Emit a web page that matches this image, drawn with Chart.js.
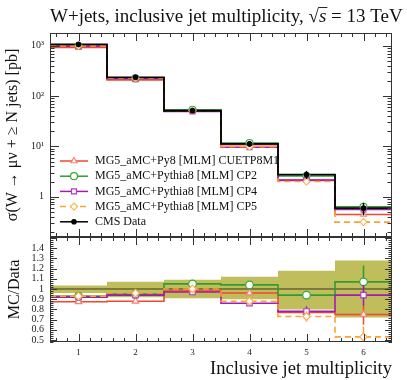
<!DOCTYPE html>
<html>
<head>
<meta charset="utf-8">
<script src="https://cdn.jsdelivr.net/npm/chart.js@4.4.1/dist/chart.umd.min.js"></script>
<style>
body{margin:0;background:#fff;}
canvas{display:block;}
</style>
</head>
<body>
<canvas id="main_chart" width="407" height="237"></canvas>
<canvas id="ratio_chart" width="407" height="143"></canvas>
<script>
// inclusive jet multiplicity bins
const NJETS = [1, 2, 3, 4, 5, 6];
const X_LABELS = ['1', '2', '3', '4', '5', '6'];
const LOG_TICKS = [1, 10, 100, 1000];
const LOG_LABELS = ['1', '10¹', '10²', '10³'];
const RATIO_TICKS = [0.5, 0.6, 0.7, 0.8, 0.9, 1.0, 1.1, 1.2, 1.3, 1.4];
const RATIO_LABELS = ['0.5', '0.6', '0.7', '0.8', '0.9', '1', '1.1', '1.2', '1.3', '1.4'];

// CMS data [pb]
const cmsData = [1060, 236, 51, 11.2, 2.74, 0.59];
// data uncertainty band (MC/Data)
const bandHi = [1.035, 1.07, 1.09, 1.12, 1.18, 1.28];
const bandLo = [0.96, 0.92, 0.91, 0.90, 0.80, 0.72];

// MC / Data
const ratioCUETP8M1 = [0.875, 0.88, 0.98, 0.96, 0.77, 0.75];
const ratioCP2 = [0.93, 0.95, 1.05, 1.04, 0.94, 1.07];
const ratioCP4 = [0.92, 0.94, 0.97, 0.86, 0.78, 0.94];
const ratioCP5 = [0.93, 0.96, 1.00, 0.88, 0.73, 0.53];
// MC stat. errors on the ratio
const errCUETP8M1 = [0.015, 0.015, 0.02, 0.02, 0.04, 0.10];
const errCP2 = [0.015, 0.015, 0.02, 0.02, 0.04, 0.16];
const errCP4 = [0.015, 0.015, 0.02, 0.02, 0.05, 0.10];
const errCP5 = [0.015, 0.015, 0.02, 0.02, 0.05, 0.10];

const seriesLabels = [
    'MG5_aMC+Py8 [MLM] CUETP8M1',
    'MG5_aMC+Pythia8 [MLM] CP2',
    'MG5_aMC+Pythia8 [MLM] CP4',
    'MG5_aMC+Pythia8 [MLM] CP5'
];
const dataLabel = 'CMS Data';

const FONT = "'Liberation Serif', 'DejaVu Serif', serif";
Chart.defaults.font.family = FONT;
Chart.defaults.color = '#222';

const SERIES = [
    {label: seriesLabels[0], ratio: ratioCUETP8M1, err: errCUETP8M1, color: '#f4472b', mark: '#f7826e', style: 'triangle', dash: []},
    {label: seriesLabels[1], ratio: ratioCP2, err: errCP2, color: '#2f9e2f', mark: '#3aa63a', style: 'circle', dash: []},
    {label: seriesLabels[2], ratio: ratioCP4, err: errCP4, color: '#a21caf', mark: '#b03cc0', style: 'rect', dash: []},
    {label: seriesLabels[3], ratio: ratioCP5, err: errCP5, color: '#ffa035', mark: '#ffb050', style: 'rectRot', dash: [6, 4]}
];

// histogram as step line through bin edges
function steps(vals){
    let pts = vals.map((v, i) => ({x: NJETS[i] - 0.5, y: v}));
    pts.push({x: NJETS[NJETS.length - 1] + 0.5, y: vals[vals.length - 1]});
    return pts;
}
function centers(vals){
    return vals.map((v, i) => ({x: NJETS[i], y: v}));
}
// no extra label padding around the plot frames
function noPad(scale){
    scale.paddingTop = 0; scale.paddingBottom = 0;
    scale.paddingLeft = 0; scale.paddingRight = 0;
}

// ---- plugins ----
const framePlugin = {
    id: 'frameTicks',
    afterDraw(chart, args, opts){
        const ctx = chart.ctx, a = chart.chartArea;
        const xs = chart.scales.x, ys = chart.scales.y;
        ctx.save();
        ctx.strokeStyle = '#333';
        ctx.lineWidth = 1;
        ctx.beginPath();
        for (let k = 3; k <= 32; k++) {
            const len = k % 5 === 0 ? 8 : 4;
            const px = Math.round(xs.getPixelForValue(k * 0.2)) + 0.5;
            ctx.moveTo(px, a.top); ctx.lineTo(px, a.top + len);
            ctx.moveTo(px, a.bottom); ctx.lineTo(px, a.bottom - len);
        }
        opts.yTicks.forEach(t => {
            if (t.v < ys.min || t.v > ys.max) return;
            const py = Math.round(ys.getPixelForValue(t.v)) + 0.5;
            ctx.moveTo(a.left, py); ctx.lineTo(a.left + t.len, py);
            ctx.moveTo(a.right, py); ctx.lineTo(a.right - t.len, py);
        });
        ctx.stroke();
        ctx.strokeRect(a.left + 0.5, a.top + 0.5, a.right - a.left - 1, a.bottom - a.top - 1);
        ctx.restore();
    }
};

const errorBarPlugin = {
    id: 'errorBars',
    beforeDatasetDraw(chart, args){
        const ds = chart.data.datasets[args.index];
        if (!ds.yErr) return;
        const ctx = chart.ctx, ys = chart.scales.y, a = chart.chartArea;
        ctx.save();
        ctx.beginPath();
        ctx.rect(a.left, a.top, a.right - a.left, a.bottom - a.top);
        ctx.clip();
        ctx.strokeStyle = ds.errColor || ds.borderColor;
        ctx.lineWidth = 1.5;
        args.meta.data.forEach((pt, i) => {
            const v = ds.data[i].y, e = ds.yErr[i];
            ctx.beginPath();
            ctx.moveTo(pt.x, ys.getPixelForValue(v - e));
            ctx.lineTo(pt.x, ys.getPixelForValue(v + e));
            ctx.stroke();
        });
        ctx.restore();
    }
};

const titlePlugin = {
    id: 'plotTitle',
    afterDraw(chart){
        const ctx = chart.ctx;
        const y = 22;
        let x = 50;
        const F = "19px " + FONT, FI = "italic 19px " + FONT;
        ctx.save();
        ctx.fillStyle = '#111';
        ctx.strokeStyle = '#111';
        ctx.textBaseline = 'alphabetic';
        ctx.font = F;
        const part1 = 'W+jets, inclusive jet multiplicity, ';
        ctx.fillText(part1, x, y);
        x += ctx.measureText(part1).width;
        ctx.fillText('√', x, y);
        x += ctx.measureText('√').width;
        ctx.font = FI;
        ctx.fillText('s', x, y);
        const sw = ctx.measureText('s').width;
        ctx.lineWidth = 0.9;
        ctx.beginPath();
        ctx.moveTo(x - 0.5, y - 14.5);
        ctx.lineTo(x + sw + 1, y - 14.5);
        ctx.stroke();
        x += sw;
        ctx.font = F;
        ctx.fillText(' = 13 TeV', x, y);
        ctx.restore();
    }
};

const legendPlugin = {
    id: 'boxLegend',
    afterDraw(chart, args, opts){
        const ctx = chart.ctx;
        const H = Chart.helpers;
        ctx.save();
        ctx.font = "12px " + FONT;
        ctx.textBaseline = 'middle';
        opts.items.forEach((it, i) => {
            const y = opts.y0 + i * opts.dy;
            ctx.strokeStyle = it.color;
            ctx.lineWidth = 1.5;
            ctx.setLineDash(it.dash || []);
            ctx.beginPath();
            ctx.moveTo(opts.x0, y); ctx.lineTo(opts.x0 + 28, y);
            ctx.stroke();
            ctx.setLineDash([]);
            ctx.fillStyle = it.fill;
            ctx.strokeStyle = it.mark;
            ctx.lineWidth = 1.2;
            H.drawPoint(ctx, {pointStyle: it.style, radius: it.radius, rotation: 0, borderWidth: 1.2}, opts.x0 + 14, y);
            ctx.fillStyle = '#111';
            ctx.fillText(it.label, opts.x0 + 35, y);
        });
        ctx.restore();
    }
};

// ---- main panel ----
let mainSets = [];
SERIES.forEach((s, i) => {
    const vals = s.ratio.map((r, k) => r * cmsData[k]);
    mainSets.push({
        data: steps(vals), stepped: true, borderColor: s.color, borderWidth: 1.6,
        borderDash: s.dash, pointRadius: 0, fill: false, order: 20 - i
    });
    mainSets.push({
        data: centers(vals), showLine: false, pointStyle: s.style, pointRadius: 3.5,
        pointBackgroundColor: '#fff', pointBorderColor: s.mark, pointBorderWidth: 1.1, order: 10 - i
    });
});
mainSets.push({
    data: steps(cmsData), stepped: true, borderColor: '#000', borderWidth: 1.8,
    pointRadius: 0, fill: false, order: 12
});
mainSets.push({
    data: centers(cmsData), showLine: false, pointStyle: 'circle', pointRadius: 2.5,
    pointBackgroundColor: '#000', pointBorderColor: '#000', borderColor: '#000',
    yErr: cmsData.map((v, k) => v * (bandHi[k] - 1)), order: 1
});

let logTicks = [];
for (let d = -1; d <= 3; d++) {
    for (let m = 1; m <= 9; m++) logTicks.push({v: m * Math.pow(10, d), len: m === 1 ? 9 : 4.5});
}

new Chart(document.getElementById('main_chart'), {
    type: 'line',
    data: {datasets: mainSets},
    options: {
        responsive: false,
        animation: false,
        layout: {autoPadding: false, padding: {top: 33, right: 15, left: 0, bottom: 0}},
        plugins: {
            legend: {display: false},
            tooltip: {enabled: false},
            frameTicks: {yTicks: logTicks},
            boxLegend: {
                x0: 60, y0: 161, dy: 15.2,
                items: SERIES.map(s => ({label: s.label, color: s.color, mark: s.mark, dash: s.dash, style: s.style, radius: 3.5, fill: '#fff'}))
                    .concat([{label: dataLabel, color: '#000', mark: '#000', dash: [], style: 'circle', radius: 2.2, fill: '#000'}])
            }
        },
        scales: {
            x: {type: 'linear', min: 0.5, max: 6.5, display: false},
            y: {
                type: 'logarithmic', min: 0.158, max: 1790,
                grid: {display: false, drawTicks: false},
                border: {display: false},
                afterFit: function(scale){ scale.width = 50; noPad(scale); },
                afterBuildTicks: function(scale){ scale.ticks = LOG_TICKS.map(v => ({value: v})); },
                ticks: {
                    padding: 6, font: {size: 10}, color: '#222', autoSkip: false,
                    callback: function(v){ const i = LOG_TICKS.indexOf(v); return i >= 0 ? LOG_LABELS[i] : ''; }
                },
                title: {display: true, text: 'σ(W → μν + ≥ N jets) [pb]', font: {size: 16}, color: '#111', padding: {top: 3, bottom: 0}}
            }
        }
    },
    plugins: [errorBarPlugin, framePlugin, titlePlugin, legendPlugin]
});

// ---- ratio panel ----
let ratioSets = [];
ratioSets.push({
    data: steps(bandHi), stepped: true, borderWidth: 0, pointRadius: 0,
    backgroundColor: '#bfbd5c', fill: '+1', order: 100
});
ratioSets.push({
    data: steps(bandLo), stepped: true, borderWidth: 0, pointRadius: 0, fill: false, order: 99
});
ratioSets.push({
    data: steps(NJETS.map(() => 1)), stepped: true, borderColor: '#3a3a1a', borderWidth: 1,
    pointRadius: 0, fill: false, order: 50
});
SERIES.forEach((s, i) => {
    ratioSets.push({
        data: steps(s.ratio), stepped: true, borderColor: s.color, borderWidth: 1.6,
        borderDash: s.dash, pointRadius: 0, fill: false, order: 40 - i
    });
    ratioSets.push({
        data: centers(s.ratio), showLine: false, pointStyle: s.style, pointRadius: 3.8,
        pointBackgroundColor: '#fff', pointBorderColor: s.mark, pointBorderWidth: 1.2,
        borderColor: s.color, yErr: s.err, order: 10 - i
    });
});

let ratioTicks = [];
for (let k = 24; k <= 75; k++) ratioTicks.push({v: k * 0.02, len: k % 5 === 0 ? 7 : 3.5});

new Chart(document.getElementById('ratio_chart'), {
    type: 'line',
    data: {datasets: ratioSets},
    options: {
        responsive: false,
        animation: false,
        layout: {autoPadding: false, padding: {top: 0, right: 15, left: 0, bottom: 0}},
        plugins: {
            legend: {display: false},
            tooltip: {enabled: false},
            frameTicks: {yTicks: ratioTicks}
        },
        scales: {
            x: {
                type: 'linear', min: 0.5, max: 6.5,
                grid: {display: false, drawTicks: false},
                border: {display: false},
                afterFit: function(scale){ scale.height = 38; noPad(scale); },
                afterBuildTicks: function(scale){ scale.ticks = NJETS.map(v => ({value: v})); },
                ticks: {
                    padding: 5, font: {size: 9}, color: '#222', maxRotation: 0, autoSkip: false,
                    callback: function(v){ const i = NJETS.indexOf(v); return i >= 0 ? X_LABELS[i] : ''; }
                },
                title: {display: true, text: 'Inclusive jet multiplicity', align: 'end', font: {size: 18.5}, color: '#111', padding: {top: 0, bottom: 0}}
            },
            y: {
                type: 'linear', min: 0.48, max: 1.51,
                grid: {display: false, drawTicks: false},
                border: {display: false},
                afterFit: function(scale){ scale.width = 50; noPad(scale); },
                afterBuildTicks: function(scale){ scale.ticks = RATIO_TICKS.map(v => ({value: v})); },
                ticks: {
                    padding: 6, font: {size: 10}, color: '#222', autoSkip: false,
                    callback: function(v, idx){ return RATIO_LABELS[idx]; }
                },
                title: {display: true, text: 'MC/Data', font: {size: 16}, color: '#111', padding: {top: 5, bottom: 0}}
            }
        }
    },
    plugins: [errorBarPlugin, framePlugin]
});
</script>
</body>
</html>
